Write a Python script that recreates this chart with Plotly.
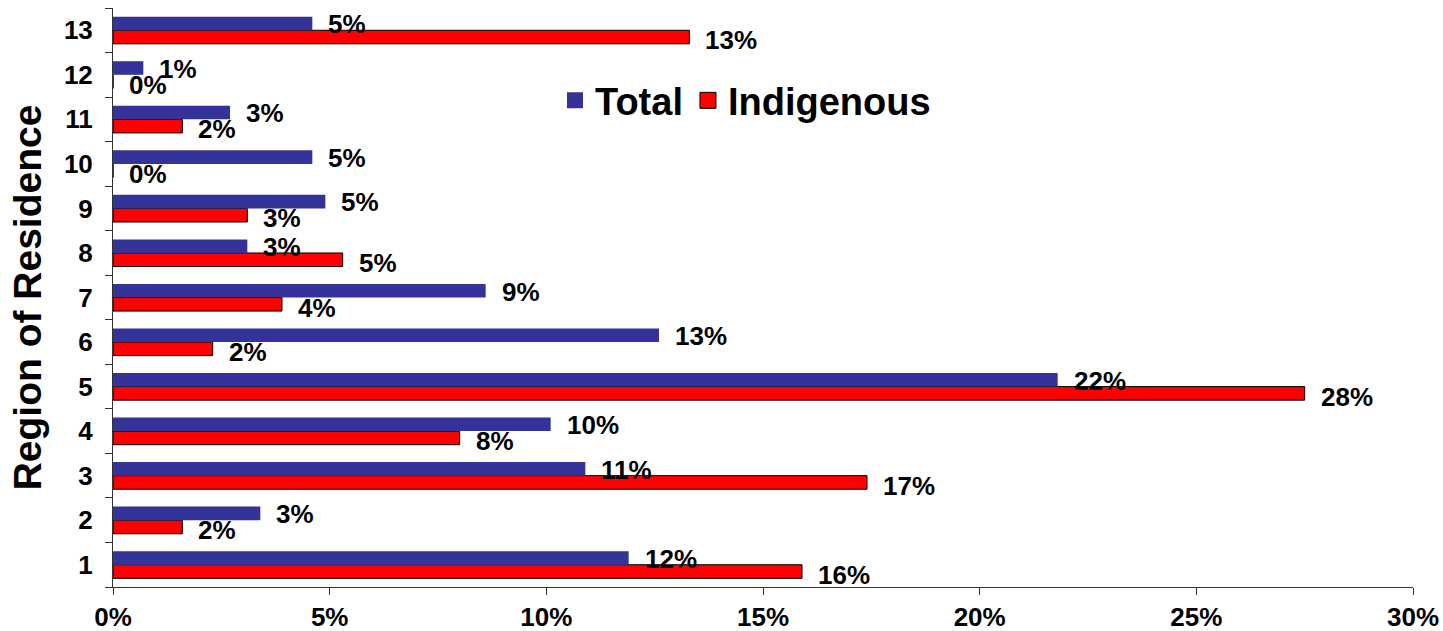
import plotly.graph_objects as go

regions = [str(i) for i in range(1, 14)]
total = [0.119, 0.034, 0.109, 0.101, 0.218, 0.126, 0.086, 0.031, 0.049, 0.046, 0.027, 0.007, 0.046]
indigenous = [0.159, 0.016, 0.174, 0.080, 0.275, 0.023, 0.039, 0.053, 0.031, 0.000, 0.016, 0.000, 0.133]

BLUE = "#333399"
RED = "#FF0000"
FONT = "Liberation Sans, Arial, sans-serif"

fig = go.Figure()
fig.add_trace(go.Bar(
    y=regions, x=indigenous, orientation="h", name="Indigenous",
    marker=dict(color=RED, line=dict(color="black", width=1)), showlegend=False,
))
fig.add_trace(go.Bar(
    y=regions, x=total, orientation="h", name="Total",
    marker=dict(color=BLUE, line=dict(width=0)), showlegend=False,
))
# legend-only entries with larger square swatches
fig.add_trace(go.Scatter(x=[None], y=[None], mode="markers", name="Total",
                         marker=dict(symbol="square", size=16, color=BLUE, line=dict(width=0)),
                         legendrank=1))
fig.add_trace(go.Scatter(x=[None], y=[None], mode="markers", name="Indigenous",
                         marker=dict(symbol="square", size=16, color=RED,
                                     line=dict(color="black", width=1)),
                         legendrank=2))

lab_font = dict(family=FONT, size=26, color="black", weight="bold")
for i, v in enumerate(total):
    fig.add_annotation(x=v, y=i, text=f"{v*100:.0f}%", showarrow=False,
                       xanchor="left", xshift=14, yshift=6, font=lab_font)
for i, v in enumerate(indigenous):
    fig.add_annotation(x=v, y=i, text=f"{v*100:.0f}%", showarrow=False,
                       xanchor="left", xshift=14, yshift=-10, font=lab_font)

fig.update_layout(
    width=1443, height=631,
    margin=dict(l=113, r=30, t=8, b=44),
    plot_bgcolor="white", paper_bgcolor="white",
    barmode="group", bargap=0.39, bargroupgap=0,
    font=dict(family=FONT, color="black"),
    showlegend=True,
    legend=dict(orientation="h", x=0.34, y=0.84, xanchor="left", yanchor="middle",
                font=dict(family=FONT, size=38, weight="bold"),
                bgcolor="rgba(0,0,0,0)", itemwidth=30, tracegroupgap=0),
)
fig.update_xaxes(
    range=[0, 0.30], dtick=0.05, tickformat=".0%",
    showgrid=False, zeroline=False, showline=True, linecolor="#333", linewidth=1,
    ticks="outside", ticklen=7, tickcolor="#333",
    tickfont=dict(family=FONT, size=26, weight="bold"),
    automargin=False,
)
fig.update_yaxes(
    type="category", categoryorder="array", categoryarray=regions,
    range=[-0.5, len(regions) - 0.5],
    showgrid=False, zeroline=False, showline=True, linecolor="#333", linewidth=1,
    ticks="outside", ticklen=7, tickcolor="#333", tickson="boundaries",
    ticklabelstandoff=14,
    tickfont=dict(family=FONT, size=26, weight="bold"),
    title=dict(text="Region of Residence", standoff=10,
               font=dict(family=FONT, size=39, weight="bold")),
    automargin=False,
)

fig.write_html("out.html", config={"displayModeBar": False},
               post_script="document.body.style.margin='0';")
